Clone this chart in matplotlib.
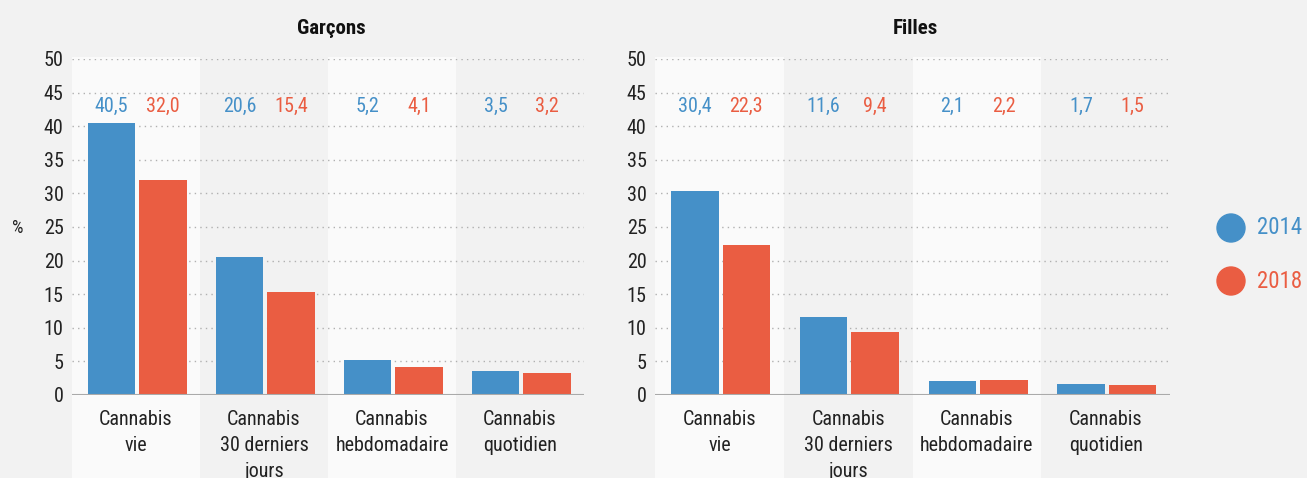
import matplotlib
matplotlib.use('Agg')
import matplotlib.pyplot as plt
from matplotlib import font_manager
from matplotlib.patches import Ellipse
import numpy as np

# Data
categories = ['Cannabis\nvie', 'Cannabis\n30 derniers\njours', 'Cannabis\nhebdomadaire', 'Cannabis\nquotidien']
years = ['2014', '2018']
garcons_2014 = [40.5, 20.6, 5.2, 3.5]
garcons_2018 = [32.0, 15.4, 4.1, 3.2]
filles_2014 = [30.4, 11.6, 2.1, 1.7]
filles_2018 = [22.3, 9.4, 2.2, 1.5]
yticks = [0, 5, 10, 15, 20, 25, 30, 35, 40, 45, 50]

BLUE = '#4590c8'
RED = '#ea5d42'
BG = '#f2f2f2'
LIGHT = '#fafafa'

# pick a narrow font if one is around
font = 'DejaVu Sans'
for name in ['Roboto Condensed', 'Liberation Sans Narrow', 'Open Sans Condensed', 'Roboto']:
    try:
        font_manager.findfont(name, fallback_to_default=False)
        font = name
        break
    except ValueError:
        pass
plt.rcParams['font.family'] = [font, 'DejaVu Sans']

W, H = 1307, 478
fig = plt.figure(figsize=(W / 100, H / 100), dpi=100, facecolor=BG)


def px_axes(x0, x1, ytop, ybot):
    return fig.add_axes([x0 / W, (H - ybot) / H, (x1 - x0) / W, (ybot - ytop) / H])


def fmt(v):
    return f'{v:.1f}'.replace('.', ',')


def draw_panel(ax, v14, v18, title):
    ax.set_facecolor(BG)
    x = np.arange(len(categories))
    ax.set_xlim(-0.5, len(categories) - 0.5)
    ax.set_ylim(0, 50)
    # alternating bands, running down under the labels
    ymin = -(H - 395) / 336
    for i in x:
        if i % 2 == 0:
            ax.axvspan(i - 0.5, i + 0.5, ymin=ymin, ymax=1.006, color=LIGHT,
                       zorder=0, clip_on=False, lw=0)
    for t in yticks[1:]:
        ax.axhline(t, color='#b0b0b0', lw=1, ls=(0, (1, 3)), zorder=1)
    ax.axhline(0, color='#aaaaaa', lw=1.5, zorder=3)
    w = 0.37
    ax.bar(x - 0.19, v14, w, color=BLUE, zorder=2)
    ax.bar(x + 0.21, v18, w, color=RED, zorder=2)
    for i in x:
        ax.text(i - 0.19, 43, fmt(v14[i]), color=BLUE, ha='center', va='center', fontsize=14.5)
        ax.text(i + 0.21, 43, fmt(v18[i]), color=RED, ha='center', va='center', fontsize=14.5)
    ax.set_xticks(x)
    ax.set_xticklabels(categories, fontsize=11, linespacing=1.45)
    ax.set_yticks(yticks)
    ax.tick_params(axis='both', length=0, labelsize=14.5, colors='#222222')
    ax.tick_params(axis='x', pad=11)
    ax.tick_params(axis='y', pad=6)
    for s in ax.spines.values():
        s.set_visible(False)
    pos = ax.get_position()
    fig.text(pos.x0 + pos.width / 2 + 3 / W, 1 - 28 / H, title, fontsize=15,
             fontweight='bold', ha='center', va='center', color='#111111')


ax1 = px_axes(72, 584, 59, 395)
ax2 = px_axes(655, 1170, 59, 395)
draw_panel(ax1, garcons_2014, garcons_2018, 'Garçons')
draw_panel(ax2, filles_2014, filles_2018, 'Filles')

fig.text(18 / W, 1 - 228 / H, '%', fontsize=13, ha='center', va='center', color='#222222')

# legend: dots + coloured year labels
for yr, col, yp in zip(years, [BLUE, RED], [228, 281]):
    fig.add_artist(Ellipse((1231 / W, 1 - yp / H), 28 / W, 28 / H,
                           transform=fig.transFigure, color=col))
    fig.text(1257 / W, 1 - yp / H, yr, fontsize=16.5, color=col, ha='left', va='center')

fig.savefig('out.png', dpi=100, facecolor=BG)
